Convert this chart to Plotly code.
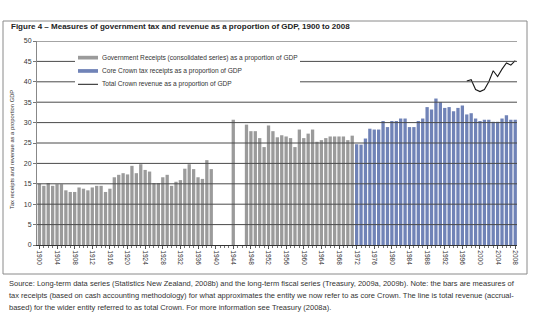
import plotly.graph_objects as go

# Government receipts (consolidated series), % of GDP
gov_years = list(range(1900, 1940)) + [1944] + list(range(1947, 1972))
gov_values = [
    15.0, 14.5, 15.2, 14.5, 14.9, 14.9, 13.4, 13.0, 13.0, 14.1,
    13.8, 13.4, 14.1, 14.5, 14.5, 13.0, 13.8, 16.6, 17.2, 17.6,
    17.3, 19.4, 17.6, 19.8, 18.4, 18.0, 15.2, 15.2, 16.6, 17.2,
    14.5, 15.5, 15.9, 18.7, 19.8, 18.6, 16.6, 16.2, 20.8, 18.6,
    30.7,
    29.5, 27.9, 27.9, 26.2, 24.0, 29.3, 27.9, 26.4, 26.9, 26.6,
    26.2, 24.0, 28.3, 26.2, 27.3, 28.3, 25.3, 25.7, 26.2, 26.6,
    26.6, 26.6, 26.6, 25.7, 26.8,
]

# Core Crown tax receipts, % of GDP
core_years = list(range(1972, 2009))
core_values = [
    24.7, 24.6, 26.1, 28.5, 28.3, 28.3, 30.4, 28.9, 30.4, 30.4,
    31.0, 31.0, 28.9, 28.9, 30.4, 31.0, 33.8, 33.2, 35.9, 35.0,
    33.6, 33.8, 32.8, 33.6, 34.2, 32.0, 32.3, 31.0, 30.4, 30.7,
    30.7, 30.2, 30.2, 31.0, 31.8, 30.7, 30.7,
]

# Total Crown revenue, % of GDP
total_years = list(range(1997, 2009))
total_values = [40.2, 40.5, 38.1, 37.6, 38.1, 40.0, 42.7, 41.3, 43.1, 44.6, 44.1, 45.2]

y_ticks = [0, 5, 10, 15, 20, 25, 30, 35, 40, 45, 50]
x_tick_years = list(range(1900, 2009, 4))

legend_labels = [
    "Government Receipts (consolidated series) as a proportion of GDP",
    "Core Crown tax receipts as a proportion of GDP",
    "Total Crown revenue as a proportion of GDP",
]
title_text = "Figure 4 \u2013 Measures of government tax and revenue as a proportion of GDP, 1900 to 2008"
y_title = "Tax receipts and revenue as a proportion GDP"
note_lines = [
    "Source: Long-term data series (Statistics New Zealand, 2008b) and the long-term fiscal series (Treasury, 2009a, 2009b). Note: the bars are measures of",
    "tax receipts (based on cash accounting methodology) for what approximates the entity we now refer to as core Crown. The line is total revenue (accrual-",
    "based) for the wider entity referred to as total Crown. For more information see Treasury (2008a).",
]

GRAY = "#9b9b9b"
BLUE = "#7083b7"
FONT = "Liberation Sans"
TEXT = "#333333"

W, H = 535, 324
L, R, T, B = 37, 18, 41, 79
PW, PH = W - L - R, H - T - B


def px(x):
    return (x - L) / PW


def py(y):
    return (H - B - y) / PH


fig = go.Figure()
fig.add_trace(go.Bar(x=gov_years, y=gov_values, marker=dict(color=GRAY, line=dict(width=0)),
                     name=legend_labels[0], showlegend=False))
fig.add_trace(go.Bar(x=core_years, y=core_values, marker=dict(color=BLUE, line=dict(width=0)),
                     name=legend_labels[1], showlegend=False))
fig.add_trace(go.Scatter(x=total_years, y=total_values, mode="lines",
                         line=dict(color="#1a1a1a", width=1.1),
                         name=legend_labels[2], showlegend=False))

shapes = []
# horizontal grid drawn over the bars
for v in y_ticks[1:]:
    shapes.append(dict(type="line", xref="paper", yref="y", x0=0, x1=1, y0=v, y1=v,
                       line=dict(color="#4a4a4a", width=1), layer="above"))

# legend block
shapes.append(dict(type="rect", xref="paper", yref="paper", x0=px(75), x1=px(300),
                   y0=py(91), y1=py(52), fillcolor="white", line=dict(width=0), layer="above"))
legend_rows = [57.7, 71.0, 84.3]
shapes.append(dict(type="rect", xref="paper", yref="paper", x0=px(78), x1=px(98),
                   y0=py(59.5), y1=py(55.8), fillcolor=GRAY, line=dict(width=0), layer="above"))
shapes.append(dict(type="rect", xref="paper", yref="paper", x0=px(78), x1=px(98),
                   y0=py(72.8), y1=py(69.1), fillcolor=BLUE, line=dict(width=0), layer="above"))
shapes.append(dict(type="line", xref="paper", yref="paper", x0=px(78), x1=px(98),
                   y0=py(84.3), y1=py(84.3), line=dict(color="#1a1a1a", width=1), layer="above"))

# outer frame
shapes.append(dict(type="rect", xref="paper", yref="paper", x0=px(3), x1=px(527),
                   y0=py(274), y1=py(21), line=dict(color="#8a8a8a", width=1),
                   fillcolor="rgba(0,0,0,0)", layer="above"))

annotations = []
for label, yy in zip(legend_labels, legend_rows):
    annotations.append(dict(text=label, xref="paper", yref="paper", x=px(100), y=py(yy),
                            xanchor="left", yanchor="middle", showarrow=False,
                            font=dict(family=FONT, size=6.6, color=TEXT)))
annotations.append(dict(text="<b>" + title_text + "</b>", xref="paper", yref="paper",
                        x=px(9), y=py(26.5), xanchor="left", yanchor="middle", showarrow=False,
                        font=dict(family=FONT, size=8.0, color="#222222")))
annotations.append(dict(text=y_title, xref="paper", yref="paper", x=px(12), y=py(150),
                        xanchor="center", yanchor="middle", textangle=-90, showarrow=False,
                        font=dict(family=FONT, size=5.8, color=TEXT)))
for i, line in enumerate(note_lines):
    annotations.append(dict(text=line, xref="paper", yref="paper", x=px(6.5), y=py(283.3 + 12 * i),
                            xanchor="left", yanchor="middle", showarrow=False,
                            font=dict(family=FONT, size=7.5, color=TEXT)))

fig.update_layout(
    width=W, height=H,
    margin=dict(l=L, r=R, t=T, b=B, pad=0),
    paper_bgcolor="white", plot_bgcolor="white",
    barmode="overlay", bargap=0.25,
    showlegend=False,
    shapes=shapes, annotations=annotations,
    xaxis=dict(
        range=[1899.45, 2008.4], tickmode="array", tickvals=x_tick_years,
        ticktext=[str(y) for y in x_tick_years], tickangle=90,
        ticks="outside", ticklen=3, tickcolor="#555555", tickwidth=1,
        minor=dict(dtick=1, tick0=1900, ticks="outside", ticklen=2, tickcolor="#777777", showgrid=False),
        showgrid=False, zeroline=False, showline=True, linecolor="#333333", linewidth=1,
        tickfont=dict(family=FONT, size=6.5, color=TEXT),
    ),
    yaxis=dict(
        range=[0, 50], tickmode="array", tickvals=y_ticks,
        ticks="outside", ticklen=3, tickcolor="#777777",
        showgrid=False, zeroline=False, showline=True, linecolor="#888888", linewidth=1,
        tickfont=dict(family=FONT, size=7, color=TEXT),
    ),
)

fig.write_html("out.html")
